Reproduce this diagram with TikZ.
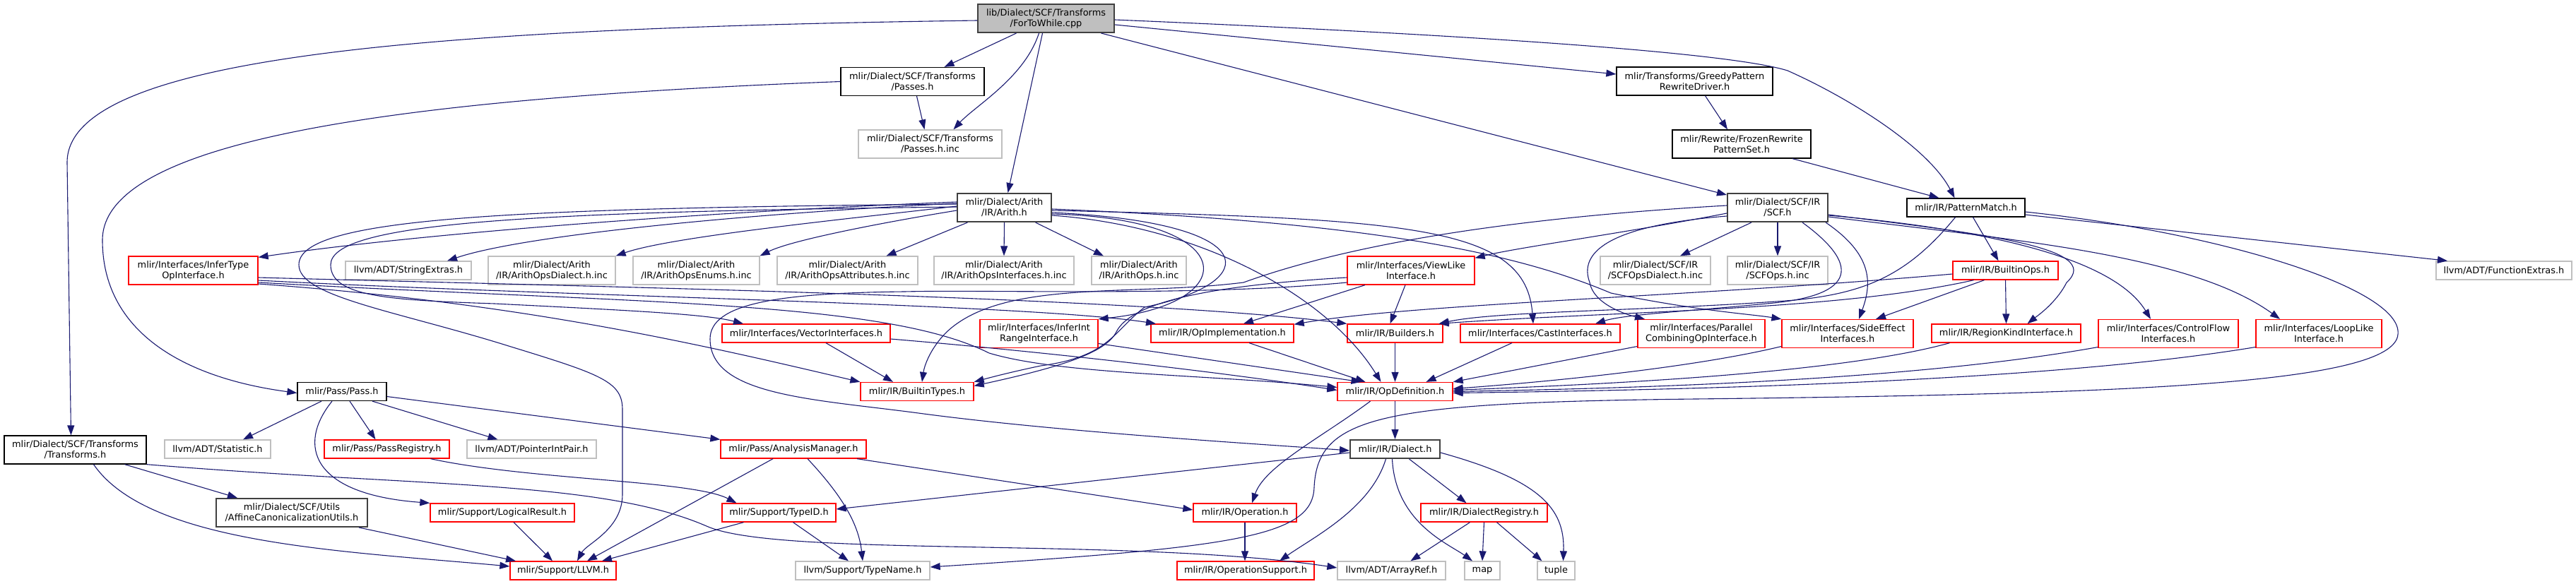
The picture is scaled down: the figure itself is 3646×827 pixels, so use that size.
\documentclass[tikz,border=0pt]{standalone}
\usepackage{fontspec}
\setmainfont{DejaVu Sans}
\usetikzlibrary{arrows.meta}
\definecolor{edgeblue}{HTML}{191970}
\definecolor{boxgray}{HTML}{BFBFBF}
\definecolor{boxdark}{HTML}{404040}

\begin{document}
\begin{tikzpicture}[x=1pt, y=-1pt,
  hdr/.style={draw, rectangle, fill=white, align=center, inner xsep=2pt, inner ysep=1pt, minimum height=26pt, line width=1.3pt, font=\fontsize{12.9}{15}\selectfont},
  doc/.style={hdr, draw=black},
  docx/.style={hdr, draw=boxdark, line width=2pt},
  trunc/.style={hdr, draw=red},
  ext/.style={hdr, draw=boxgray},
  src/.style={hdr, draw=boxdark, fill=boxgray, line width=2pt},
  tall/.style={minimum height=40pt},
  dep/.style={draw=edgeblue, line width=1.1pt, -{Triangle[length=14pt,width=10pt]}}]
\useasboundingbox (0,0) rectangle (3646,827);

% top levels
\node[src, tall, minimum width=193pt] (root) at (1480.5,26) {lib/Dialect/SCF/Transforms\\/ForToWhile.cpp};
\node[doc, tall, minimum width=203pt] (passes) at (1291.5,115.5) {mlir/Dialect/SCF/Transforms\\/Passes.h};
\node[ext, tall, minimum width=203pt] (passesinc) at (1316.5,204) {mlir/Dialect/SCF/Transforms\\/Passes.h.inc};
\node[doc, tall, minimum width=221pt] (greedy) at (2398.5,115) {mlir/Transforms/GreedyPattern\\RewriteDriver.h};
\node[doc, tall, minimum width=196pt] (frozen) at (2465,204) {mlir/Rewrite/FrozenRewrite\\PatternSet.h};
\node[docx, tall, minimum width=133pt] (arith) at (1421.5,294) {mlir/Dialect/Arith\\/IR/Arith.h};
\node[docx, tall, minimum width=142pt] (scf) at (2516,294) {mlir/Dialect/SCF/IR\\/SCF.h};
\node[doc, minimum width=167pt] (patmatch) at (2782.5,294) {mlir/IR/PatternMatch.h};

% row of includes
\node[trunc, tall, minimum width=183pt] (infertype) at (273.5,383) {mlir/Interfaces/InferType\\OpInterface.h};
\node[ext, minimum width=178pt] (strext) at (578,383) {llvm/ADT/StringExtras.h};
\node[ext, tall, minimum width=180pt] (arithdialect) at (781,383) {mlir/Dialect/Arith\\/IR/ArithOpsDialect.h.inc};
\node[ext, tall, minimum width=179pt] (arithenums) at (985.5,383) {mlir/Dialect/Arith\\/IR/ArithOpsEnums.h.inc};
\node[ext, tall, minimum width=199pt] (arithattrs) at (1199.5,383) {mlir/Dialect/Arith\\/IR/ArithOpsAttributes.h.inc};
\node[ext, tall, minimum width=198pt] (arithifaces) at (1421,383) {mlir/Dialect/Arith\\/IR/ArithOpsInterfaces.h.inc};
\node[ext, tall, minimum width=134pt] (arithops) at (1612,383) {mlir/Dialect/Arith\\/IR/ArithOps.h.inc};
\node[trunc, tall, minimum width=180pt] (viewlike) at (1997,383) {mlir/Interfaces/ViewLike\\Interface.h};
\node[ext, tall, minimum width=156pt] (scfdialect) at (2343,383) {mlir/Dialect/SCF/IR\\/SCFOpsDialect.h.inc};
\node[ext, tall, minimum width=142pt] (scfops) at (2516,383) {mlir/Dialect/SCF/IR\\/SCFOps.h.inc};
\node[trunc, minimum width=149pt] (builtinops) at (2838.5,383) {mlir/IR/BuiltinOps.h};
\node[ext, minimum width=192pt] (funcext) at (3544,383) {llvm/ADT/FunctionExtras.h};

\node[trunc, minimum width=238pt] (vector) at (1141,472) {mlir/Interfaces/VectorInterfaces.h};
\node[trunc, tall, minimum width=167pt] (inferint) at (1470.5,472.5) {mlir/Interfaces/InferInt\\RangeInterface.h};
\node[trunc, minimum width=202pt] (opimpl) at (1730,472) {mlir/IR/OpImplementation.h};
\node[trunc, minimum width=135pt] (builders) at (1974.5,472) {mlir/IR/Builders.h};
\node[trunc, minimum width=226pt] (cast) at (2180,472) {mlir/Interfaces/CastInterfaces.h};
\node[trunc, tall, minimum width=180pt] (parallel) at (2408,472.5) {mlir/Interfaces/Parallel\\CombiningOpInterface.h};
\node[trunc, tall, minimum width=186pt] (sideeffect) at (2615,472.5) {mlir/Interfaces/SideEffect\\Interfaces.h};
\node[trunc, minimum width=211pt] (regionkind) at (2839.5,472) {mlir/IR/RegionKindInterface.h};
\node[trunc, tall, minimum width=198pt] (ctrlflow) at (3069,472.5) {mlir/Interfaces/ControlFlow\\Interfaces.h};
\node[trunc, tall, minimum width=178pt] (looplike) at (3282,472.5) {mlir/Interfaces/LoopLike\\Interface.h};

\node[doc, minimum width=126pt] (passh) at (484,554.5) {mlir/Pass/Pass.h};
\node[trunc, minimum width=160pt] (builtintypes) at (1298,554.5) {mlir/IR/BuiltinTypes.h};
\node[trunc, minimum width=163pt] (opdef) at (1974.5,554.5) {mlir/IR/OpDefinition.h};

\node[doc, tall, minimum width=201pt] (scftransforms) at (106.5,637) {mlir/Dialect/SCF/Transforms\\/Transforms.h};
\node[ext, minimum width=150pt] (statistic) at (308,636) {llvm/ADT/Statistic.h};
\node[trunc, minimum width=177pt] (passreg) at (547.5,636) {mlir/Pass/PassRegistry.h};
\node[ext, minimum width=183pt] (ptrintpair) at (752.5,636) {llvm/ADT/PointerIntPair.h};
\node[trunc, minimum width=206pt] (analysis) at (1123,636) {mlir/Pass/AnalysisManager.h};
\node[docx, minimum width=127pt] (dialect) at (1974.5,636) {mlir/IR/Dialect.h};

\node[docx, tall, minimum width=214pt] (affine) at (413,726) {mlir/Dialect/SCF/Utils\\/AffineCanonicalizationUtils.h};
\node[trunc, minimum width=204pt] (logical) at (711,726) {mlir/Support/LogicalResult.h};
\node[trunc, minimum width=161pt] (typeid) at (1102.5,726) {mlir/Support/TypeID.h};
\node[trunc, minimum width=146pt] (operation) at (1762,726) {mlir/IR/Operation.h};
\node[trunc, minimum width=179pt] (dialectreg) at (2100.5,726) {mlir/IR/DialectRegistry.h};

\node[trunc, minimum width=150pt] (llvm) at (797,808) {mlir/Support/LLVM.h};
\node[ext, minimum width=190pt] (typename) at (1221,808) {llvm/Support/TypeName.h};
\node[trunc, minimum width=194pt] (opsupport) at (1763,808) {mlir/IR/OperationSupport.h};
\node[ext, minimum width=153pt] (arrayref) at (1969.5,808) {llvm/ADT/ArrayRef.h};
\node[ext, minimum width=50pt] (stdmap) at (2098,808) {map};
\node[ext, minimum width=53pt] (stdtuple) at (2202.5,808) {tuple};

% from the source file
\draw[dep] ([yshift=-3pt]root.west) .. controls (600,40) and (95,80) .. (95,230) -- ([xshift=-6pt]scftransforms.north);
\draw[dep] ([xshift=-42pt]root.south) -- ([xshift=45pt]passes.north);
\draw[dep] ([xshift=-10pt]root.south) .. controls (1450,110) and (1380,150) .. ([xshift=33pt]passesinc.north);
\draw[dep] ([xshift=-5pt]root.south) -- ([xshift=5pt]arith.north);
\draw[dep] ([xshift=78pt]root.south) -- ([yshift=-3pt]scf.north west);
\draw[dep] ([yshift=-9pt]root.east) -- ([yshift=10pt]greedy.west);
\draw[dep] ([yshift=-2pt]root.east) .. controls (2100,50) and (2450,75) .. (2530,100) .. controls (2620,140) and (2730,210) .. ([xshift=-16pt]patmatch.north);

\draw[dep] ([xshift=6pt]passes.south) -- ([xshift=-8pt]passesinc.north);
\draw[dep] (passes.west) .. controls (550,140) and (145,200) .. (145,340) .. controls (145,470) and (260,535) .. ([yshift=-2pt]passh.west);
\draw[dep] ([xshift=15pt]greedy.south) -- ([xshift=-20pt]frozen.north);
\draw[dep] ([xshift=72pt]frozen.south) -- ([xshift=-38pt]patmatch.north);

% Arith.h
\draw[dep] ([yshift=8pt]arith.west) .. controls (1000,300) and (600,330) .. ([yshift=-2pt]infertype.north east);
\draw[dep] ([yshift=6pt]arith.west) .. controls (1100,300) and (750,330) .. ([xshift=55pt]strext.north);
\draw[dep] ([yshift=2pt]arith.west) .. controls (1200,310) and (950,335) .. (arithdialect.north east);
\draw[dep] ([yshift=-4pt]arith.west) .. controls (1250,315) and (1120,340) .. (arithenums.north east);
\draw[dep] ([xshift=-52pt]arith.south) -- ([xshift=55pt]arithattrs.north);
\draw[dep] (arith.south) -- (arithifaces.north);
\draw[dep] ([xshift=44pt]arith.south) -- ([xshift=-50pt]arithops.north);
\draw[dep] ([yshift=5pt]arith.west) .. controls (700,295) and (423,310) .. (423,375) .. controls (423,420) and (560,440) .. (720,490) .. controls (850,530) and (881,540) .. (881,580) -- (881,700) .. controls (881,750) and (830,770) .. ([xshift=20pt]llvm.north);
\draw[dep] ([yshift=1pt]arith.west) .. controls (750,300) and (468,315) .. (468,375) .. controls (468,420) and (550,425) .. (700,430) .. controls (900,440) and (1000,445) .. ([xshift=-89pt]vector.north);
\draw[dep] ([yshift=-9pt]arith.east) .. controls (1760,310) and (1760,430) .. (inferint.north east);
\draw[dep] ([yshift=-7pt]arith.east) .. controls (1790,315) and (1790,400) .. (1620,435) .. controls (1575,470) and (1570,505) .. (1473,518) .. controls (1430,527) and (1400,535) .. (builtintypes.north east);
\draw[dep] ([yshift=-11pt]arith.east) .. controls (1700,320) and (1880,420) .. ([xshift=-20pt]opdef.north);
\draw[dep] ([yshift=-4pt]arith.east) .. controls (2000,310) and (2160,320) .. ([xshift=-10pt]cast.north);
\draw[dep] ([yshift=-2pt]arith.east) .. controls (1950,315) and (2150,360) .. (2280,415) .. controls (2400,440) and (2480,445) .. (sideeffect.north west);

% InferTypeOpInterface.h
\draw[dep] ([yshift=-10pt]infertype.east) .. controls (800,405) and (1600,420) .. (builders.north west);
\draw[dep] ([yshift=-14pt]infertype.east) .. controls (800,420) and (1450,430) .. ([xshift=-94pt]opimpl.north);
\draw[dep] ([yshift=-17pt]infertype.east) .. controls (900,430) and (1250,425) .. (1400,500) .. controls (1500,530) and (1700,530) .. ([yshift=6pt]opdef.west);
\draw[dep] ([yshift=-19pt]infertype.east) .. controls (750,430) and (1000,490) .. (builtintypes.north west);

% SCF.h
\draw[dep] ([xshift=-37pt]scf.south) -- ([xshift=35pt]scfdialect.north);
\draw[dep] (scf.south) -- (scfops.north);
\draw[dep] ([yshift=-8pt]scf.west) .. controls (2300,330) and (2150,350) .. ([yshift=-3pt]viewlike.north east);
\draw[dep] ([yshift=3pt]scf.west) .. controls (2200,305) and (1940,335) .. (1760,400) .. controls (1600,420) and (1420,395) .. (1340,470) .. controls (1315,495) and (1308,520) .. ([xshift=7pt]builtintypes.north);
\draw[dep] ([yshift=-12pt]scf.west) .. controls (2270,320) and (2235,360) .. (2250,400) .. controls (2255,430) and (2300,445) .. ([xshift=-80pt]parallel.north);
\draw[dep] ([xshift=35pt]scf.south) .. controls (2640,380) and (2620,420) .. (2500,430) .. controls (2400,440) and (2300,445) .. ([xshift=78pt]cast.north);
\draw[dep] ([xshift=68pt]scf.south) .. controls (2650,360) and (2650,400) .. ([xshift=16pt]sideeffect.north);
\draw[dep] ([yshift=-10pt]scf.east) .. controls (2800,330) and (2980,350) .. (2925,400) .. controls (2910,430) and (2880,450) .. ([xshift=30pt]regionkind.north);
\draw[dep] ([yshift=-11pt]scf.east) .. controls (2870,330) and (3000,380) .. ([xshift=-25pt]ctrlflow.north);
\draw[dep] ([yshift=-13pt]scf.east) .. controls (2850,340) and (3100,360) .. ([xshift=-55pt]looplike.north);

% PatternMatch.h and BuiltinOps.h
\draw[dep] ([xshift=10pt]patmatch.south) -- ([xshift=-10pt]builtinops.north);
\draw[dep] ([yshift=-10pt]patmatch.east) -- ([xshift=-80pt]funcext.north);
\draw[dep] ([xshift=-15pt]patmatch.south) .. controls (2700,390) and (2640,415) .. (2540,425) .. controls (2350,440) and (2120,440) .. ([xshift=-6pt]builders.north east);
\draw[dep] ([yshift=-6pt]patmatch.east) .. controls (3150,330) and (3400,410) .. (3394,473) .. controls (3390,545) and (3000,558) .. (2400,565) .. controls (1950,570) and (1865,590) .. (1860,690) .. controls (1858,760) and (1750,775) .. ([yshift=5pt]typename.east);
\draw[dep] ([yshift=-5pt]builtinops.west) .. controls (2400,420) and (2000,430) .. ([yshift=-1pt]opimpl.north east);
\draw[dep] ([xshift=-45pt]builtinops.south) .. controls (2600,440) and (2300,440) .. ([xshift=-6pt]builders.north east);
\draw[dep] ([xshift=-30pt]builtinops.south) -- ([xshift=40pt]sideeffect.north);
\draw[dep] (builtinops.south) -- (regionkind.north);

% ViewLikeInterface.h
\draw[dep] ([xshift=-8pt]viewlike.south) -- ([xshift=-7pt]builders.north);
\draw[dep] ([xshift=-65pt]viewlike.south) -- ([xshift=30pt]opimpl.north);
\draw[dep] ([yshift=-10pt]viewlike.west) .. controls (1700,405) and (1600,430) .. (1580,470) .. controls (1565,500) and (1500,520) .. ([yshift=8pt]builtintypes.east);
\draw[dep] ([yshift=-17pt]viewlike.west) .. controls (1700,420) and (1400,410) .. (1280,413) .. controls (1100,415) and (1005,430) .. (1005,480) .. controls (1005,560) and (1150,565) .. (1300,585) .. controls (1500,612) and (1800,630) .. ([yshift=-2pt]dialect.west);

% into OpDefinition.h
\draw[dep] ([yshift=-14pt]inferint.east) -- ([xshift=-48pt]opdef.north);
\draw[dep] ([xshift=38pt]opimpl.south) -- ([xshift=-42pt]opdef.north);
\draw[dep] (builders.south) -- (opdef.north);
\draw[dep] ([xshift=-40pt]cast.south) -- ([xshift=44pt]opdef.north);
\draw[dep] ([yshift=-18pt]parallel.west) -- (opdef.north east);
\draw[dep] ([yshift=-18pt]sideeffect.west) .. controls (2400,520) and (2200,540) .. ([yshift=4pt]opdef.east);
\draw[dep] ([xshift=-80pt]regionkind.south) .. controls (2600,530) and (2250,545) .. ([yshift=2pt]opdef.east);
\draw[dep] ([yshift=-19pt]ctrlflow.west) .. controls (2700,540) and (2300,550) .. (opdef.east);
\draw[dep] ([yshift=-19pt]looplike.west) .. controls (2900,540) and (2400,552) .. ([yshift=-2pt]opdef.east);
\draw[dep] ([yshift=-8pt]vector.east) .. controls (1500,500) and (1750,530) .. ([yshift=2pt]opdef.west);
\draw[dep] ([xshift=28pt]vector.south) -- ([xshift=-34pt]builtintypes.north);

% lower part
\draw[dep] (opdef.south) -- (dialect.north);
\draw[dep] ([xshift=-35pt]opdef.south) .. controls (1870,620) and (1790,660) .. ([xshift=10pt]operation.north);
\draw[dep] ([yshift=-5pt]dialect.west) -- ([yshift=5pt]typeid.east);
\draw[dep] ([xshift=-13pt]dialect.south) .. controls (1940,720) and (1860,760) .. ([xshift=48pt]opsupport.north);
\draw[dep] ([xshift=-4pt]dialect.south) .. controls (1975,740) and (2050,770) .. ([xshift=-14pt]stdmap.north);
\draw[dep] ([xshift=20pt]dialect.south) -- ([xshift=-25pt]dialectreg.north);
\draw[dep] ([yshift=-5pt]dialect.east) .. controls (2180,680) and (2215,720) .. ([xshift=10pt]stdtuple.north);
\draw[dep] ([xshift=-20pt]dialectreg.south) -- ([xshift=27pt]arrayref.north);
\draw[dep] (dialectreg.south) -- (stdmap.north);
\draw[dep] ([xshift=18pt]dialectreg.south) -- ([xshift=-20pt]stdtuple.north);
\draw[dep] (operation.south) -- ([xshift=-1pt]opsupport.north);

\draw[dep] ([xshift=90pt]analysis.south) -- ([yshift=4pt]operation.west);
\draw[dep] ([xshift=-29pt]analysis.south) -- ([xshift=34pt]llvm.north);
\draw[dep] ([xshift=20pt]analysis.south) .. controls (1190,700) and (1215,740) .. (typename.north);
\draw[dep] ([xshift=-50pt]typeid.south) -- ([xshift=55pt]llvm.north);
\draw[dep] ([xshift=20pt]typeid.south) -- ([xshift=-20pt]typename.north);
\draw[dep] ([xshift=62pt]passreg.south) .. controls (750,680) and (980,680) .. ([xshift=-60pt]typeid.north);
\draw[dep] ([xshift=16pt]logical.south) -- ([xshift=-15pt]llvm.north);

% Pass.h
\draw[dep] ([xshift=-29pt]passh.south) -- ([xshift=36pt]statistic.north);
\draw[dep] ([xshift=11pt]passh.south) -- ([xshift=-16pt]passreg.north);
\draw[dep] ([xshift=43pt]passh.south) -- ([xshift=-48pt]ptrintpair.north);
\draw[dep] ([yshift=-7pt]passh.east) -- (analysis.north west);
\draw[dep] ([xshift=-14pt]passh.south) .. controls (420,630) and (440,700) .. (logical.north west);

% Transforms.h
\draw[dep] ([xshift=70pt]scftransforms.south) -- ([xshift=-77pt]affine.north);
\draw[dep] ([xshift=26pt]scftransforms.south) .. controls (210,770) and (480,780) .. ([yshift=6pt]llvm.west);
\draw[dep] (scftransforms.south east) .. controls (600,690) and (850,680) .. (1000,745) .. controls (1100,790) and (1600,760) .. ([yshift=4pt]arrayref.west);
\draw[dep] ([xshift=95pt]affine.south) -- ([xshift=-67pt]llvm.north);
\end{tikzpicture}
\end{document}
